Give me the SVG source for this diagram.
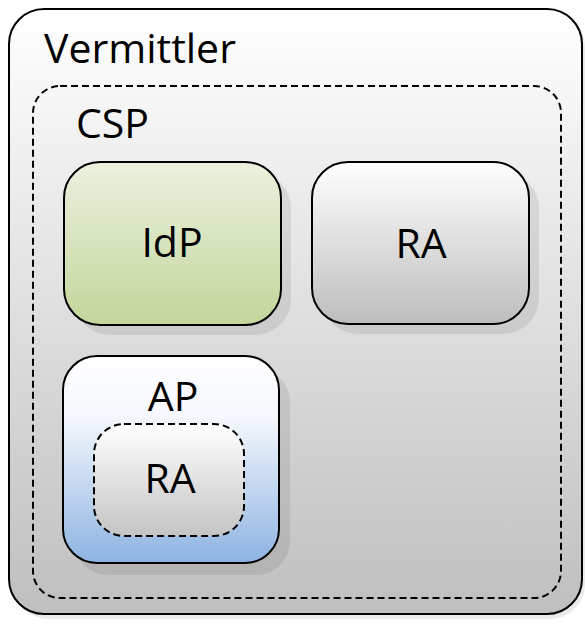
<svg xmlns="http://www.w3.org/2000/svg" width="585" height="624" viewBox="0 0 585 624">
<defs>
<linearGradient id="gOuter" x1="0" y1="0" x2="0" y2="1"><stop offset="0" stop-color="#ffffff"/><stop offset="1" stop-color="#bfbfbf"/></linearGradient>
<linearGradient id="gGrey" x1="0" y1="0" x2="0" y2="1"><stop offset="0" stop-color="#ffffff"/><stop offset="1" stop-color="#bdbdbd"/></linearGradient>
<linearGradient id="gGreen" x1="0" y1="0" x2="0" y2="1"><stop offset="0" stop-color="#ebf1de"/><stop offset="1" stop-color="#c3d69b"/></linearGradient>
<linearGradient id="gBlue" x1="0" y1="0" x2="0" y2="1"><stop offset="0" stop-color="#ffffff"/><stop offset="0.3" stop-color="#f4f7fc"/><stop offset="1" stop-color="#8db3e2"/></linearGradient>
<linearGradient id="gInner" x1="0" y1="0" x2="0" y2="1"><stop offset="0" stop-color="#ffffff"/><stop offset="1" stop-color="#c4c4c4"/></linearGradient>
</defs>
<style>
.box{stroke:#000;stroke-width:2}
.dash{fill:none;stroke:#000;stroke-width:2;stroke-dasharray:7 4}
.shadow{fill:#000;opacity:0.08}
text{font-family:"Open Sans","Noto Sans",sans-serif;font-size:41px;fill:#000}
.c{text-anchor:middle}
</style>
<g id="vermittler">
<rect x="13" y="13" width="572" height="606" rx="35" class="shadow"/>
<rect x="9" y="9" width="573" height="605" rx="35" fill="url(#gOuter)" class="box"/>
<text x="44" y="63">Vermittler</text>
</g>
<g id="csp">
<rect x="33" y="86" width="528" height="512" rx="27" class="dash"/>
<text x="76" y="138">CSP</text>
</g>
<g id="idp">
<rect x="74" y="172" width="217" height="163" rx="36" class="shadow"/>
<rect x="64" y="162" width="217" height="163" rx="36" fill="url(#gGreen)" class="box"/>
<text x="172" y="257" class="c">IdP</text>
</g>
<g id="ra-top">
<rect x="322" y="172" width="217" height="162" rx="36" class="shadow"/>
<rect x="312" y="162" width="217" height="162" rx="36" fill="url(#gGrey)" class="box"/>
<text x="421" y="258" class="c">RA</text>
</g>
<g id="ap">
<rect x="74" y="368" width="216" height="207" rx="34" class="shadow"/>
<rect x="63" y="356" width="216" height="207" rx="34" fill="url(#gBlue)" class="box"/>
<text x="173" y="411" class="c">AP</text>
</g>
<g id="ra-inner">
<rect x="94" y="424" width="150" height="112" rx="30" class="dash" style="fill:url(#gInner)"/>
<text x="170" y="493" class="c">RA</text>
</g>
<g id="connectors"/>
</svg>
